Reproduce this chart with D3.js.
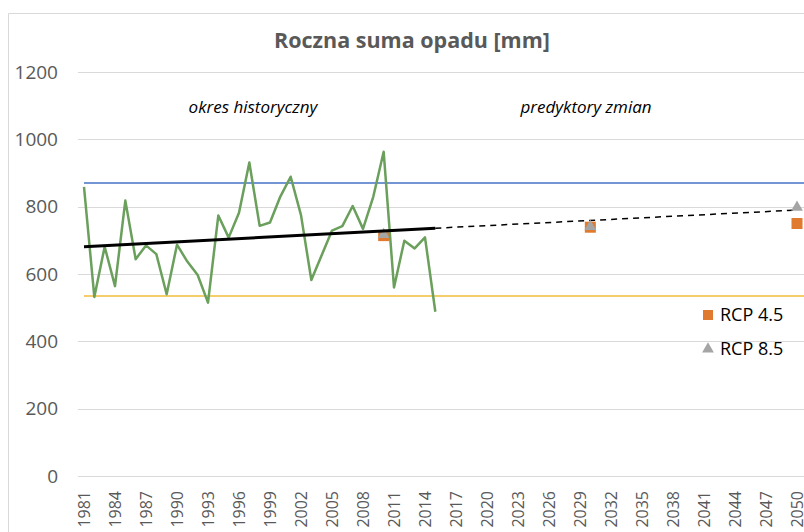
<!DOCTYPE html>
<html>
<head>
<meta charset="utf-8">
<script src="https://cdn.jsdelivr.net/npm/d3@7"></script>
<style>
  body { margin: 0; background: #fff; }
  svg { display: block; font-family: "Open Sans", "Noto Sans", sans-serif; }
</style>
</head>
<body>
<svg id="chart" width="804" height="532"></svg>
<script>
// years on the category axis
const years = d3.range(1981, 2051);
const tickYears = years.filter(y => (y - 1981) % 3 === 0);
const yTicks = [0, 200, 400, 600, 800, 1000, 1200];

// annual precipitation sum 1981-2015 [mm]
const histYears = d3.range(1981, 2016);
const histValues = [859, 532, 681, 564, 818, 644, 685, 659, 540, 687,
                    637, 597, 515, 774, 708, 782, 931, 743, 753, 830,
                    889, 775, 582, 656, 729, 742, 802, 734, 830, 963,
                    560, 699, 676, 709, 488];

// trendline (solid over history, dashed forecast)
const trendHist = [[1981, 681], [2015, 736]];
const trendFcst = [[2015, 736], [2050, 790]];

// reference levels
const upperLevel = 870;
const lowerLevel = 535;

// scenario points
const rcp45 = [[2010, 714], [2030, 739], [2050, 750]];
const rcp85 = [[2010, 717], [2030, 741], [2050, 798]];

const svg = d3.select('#chart');
const x = d3.scalePoint().domain(years).range([84, 797]);
const y = d3.scaleLinear().domain([0, 1200]).range([476, 72]);
const grey = '#595959';

// chart area border
svg.append('path')
    .attr('d', 'M8.5,532 V13.5 H804')
    .attr('fill', 'none').attr('stroke', '#d9d9d9').attr('stroke-width', 1);

// gridlines + y labels
svg.append('g').selectAll('line').data(yTicks).join('line')
    .attr('x1', 78).attr('x2', 804)
    .attr('y1', d => Math.round(y(d)) + 0.5).attr('y2', d => Math.round(y(d)) + 0.5)
    .attr('stroke', '#d9d9d9').attr('stroke-width', 1);

svg.append('g').selectAll('text').data(yTicks).join('text')
    .attr('x', 58).attr('y', d => y(d)).attr('dy', '0.35em')
    .attr('text-anchor', 'end').attr('fill', grey).attr('font-size', 19)
    .text(d => d);

// x labels rotated
svg.append('g').selectAll('text').data(tickYears).join('text')
    .attr('transform', d => `translate(${x(d)},491) rotate(-90)`)
    .attr('dy', '0.35em').attr('text-anchor', 'end')
    .attr('fill', grey).attr('font-size', 16)
    .text(d => d);

// title
svg.append('text').attr('x', 412).attr('y', 48).attr('text-anchor', 'middle')
    .attr('font-size', 21.5).attr('font-weight', 'bold').attr('fill', grey)
    .text('Roczna suma opadu [mm]');

// period annotations
svg.append('text').attr('x', 253).attr('y', 113).attr('text-anchor', 'middle')
    .attr('font-size', 17).attr('font-style', 'italic').attr('fill', '#000')
    .text('okres historyczny');
svg.append('text').attr('x', 586).attr('y', 113).attr('text-anchor', 'middle')
    .attr('font-size', 17).attr('font-style', 'italic').attr('fill', '#000')
    .text('predyktory zmian');

// reference levels
svg.append('line').attr('x1', x(1981)).attr('x2', 804)
    .attr('y1', y(upperLevel)).attr('y2', y(upperLevel))
    .attr('stroke', '#4472C4').attr('stroke-width', 1.5);
svg.append('line').attr('x1', x(1981)).attr('x2', 804)
    .attr('y1', y(lowerLevel)).attr('y2', y(lowerLevel))
    .attr('stroke', '#F2BE3A').attr('stroke-width', 1.5);

const line = d3.line().x(d => x(d[0])).y(d => y(d[1]));

// trendline
svg.append('path').datum(trendFcst).attr('d', line)
    .attr('fill', 'none').attr('stroke', '#000').attr('stroke-width', 1.5)
    .attr('stroke-dasharray', '6,5');

// scenario markers
svg.append('g').selectAll('rect').data(rcp45).join('rect')
    .attr('x', d => x(d[0]) - 5.5).attr('y', d => y(d[1]) - 5.5)
    .attr('width', 11).attr('height', 11).attr('fill', '#E07A2E');
const tri = d3.symbol().type(d3.symbolTriangle).size(60);
svg.append('g').selectAll('path').data(rcp85).join('path')
    .attr('transform', d => `translate(${x(d[0])},${y(d[1])})`)
    .attr('d', tri).attr('fill', '#A5A5A5');

// precipitation series
svg.append('path').datum(histYears.map((yr, i) => [yr, histValues[i]])).attr('d', line)
    .attr('fill', 'none').attr('stroke', '#6A9F5C').attr('stroke-width', 2.5)
    .attr('stroke-linejoin', 'round');

svg.append('path').datum(trendHist).attr('d', line)
    .attr('fill', 'none').attr('stroke', '#000').attr('stroke-width', 3);

// legend
const legend = svg.append('g').attr('transform', 'translate(708,315)');
legend.append('rect').attr('x', -5).attr('y', -5).attr('width', 10).attr('height', 10)
    .attr('fill', '#E07A2E');
legend.append('text').attr('x', 12).attr('dy', '0.35em').attr('font-size', 18)
    .attr('fill', '#000').text('RCP 4.5');
legend.append('path').attr('transform', 'translate(0,34)').attr('d', tri).attr('fill', '#A5A5A5');
legend.append('text').attr('x', 12).attr('y', 34).attr('dy', '0.35em').attr('font-size', 18)
    .attr('fill', '#000').text('RCP 8.5');
</script>
</body>
</html>
